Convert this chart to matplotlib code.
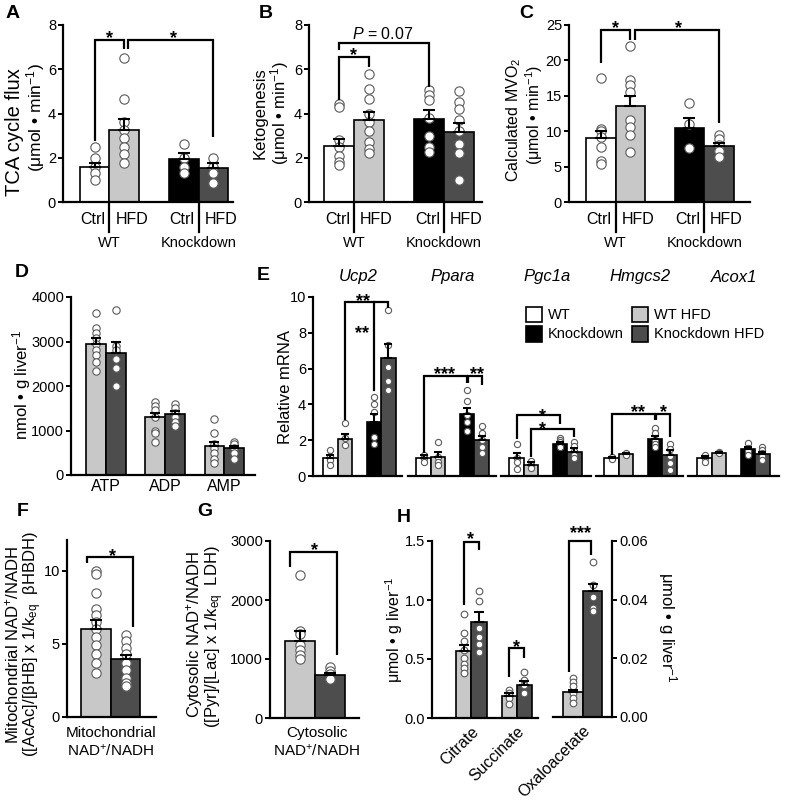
import matplotlib
matplotlib.use('Agg')
import matplotlib.pyplot as plt
import matplotlib.transforms as mtrans
from matplotlib.patches import Rectangle
import numpy as np

plt.rcParams['font.family'] = ['Liberation Sans', 'DejaVu Sans']
plt.rcParams['mathtext.fontset'] = 'custom'
plt.rcParams['mathtext.rm'] = 'Liberation Sans'
plt.rcParams['mathtext.it'] = 'Liberation Sans:italic'
plt.rcParams['mathtext.bf'] = 'Liberation Sans:bold'
plt.rcParams['mathtext.sf'] = 'Liberation Sans'

# ---------------- DATA ----------------
abc_groups = ['WT', 'Knockdown']
abc_ticks = ['Ctrl', 'HFD', 'Ctrl', 'HFD']
abc_pos = [0, 1, 3, 4]

tca_mean = [1.6, 3.25, 1.93, 1.55]
tca_sem = [0.17, 0.5, 0.27, 0.2]
tca_pts = [[2.5, 2.0, 1.6, 1.3, 1.0],
           [6.5, 4.65, 3.6, 3.25, 2.9, 2.5, 2.15, 1.75],
           [2.6, 2.0, 1.6, 1.3],
           [2.0, 1.6, 1.3, 0.85]]

keto_mean = [2.55, 3.7, 3.75, 3.15]
keto_sem = [0.3, 0.35, 0.4, 0.4]
keto_pts = [[4.45, 4.3, 2.8, 2.5, 2.1, 1.8, 1.65],
            [5.8, 5.1, 4.65, 4.0, 3.6, 3.2, 2.7, 2.4, 2.2],
            [5.05, 4.85, 4.6, 3.8, 3.0, 2.5, 2.25],
            [5.0, 4.5, 4.2, 3.7, 3.2, 2.6, 2.2, 1.0]]

mvo_mean = [9.0, 13.6, 10.5, 7.9]
mvo_sem = [1.0, 1.4, 1.3, 0.5]
mvo_pts = [[17.5, 10.3, 10.0, 9.2, 7.8, 5.8, 5.3],
           [22.0, 17.2, 16.5, 15.6, 11.6, 10.6, 9.5, 7.0],
           [14.0, 11.0, 7.6],
           [9.5, 8.9, 8.0, 7.2, 6.4]]

nuc_labels = ['ATP', 'ADP', 'AMP']
nuc_light_mean = [2950, 1300, 650]
nuc_light_sem = [120, 90, 100]
nuc_dark_mean = [2750, 1370, 600]
nuc_dark_sem = [230, 70, 60]
nuc_light_pts = [[3630, 3300, 3200, 3080, 2950, 2820, 2700, 2550, 2330],
                 [1650, 1550, 1450, 1300, 1000, 950, 750],
                 [1260, 950, 700, 600, 500, 350, 270]]
nuc_dark_pts = [[3700, 2900, 2800, 2600, 2400, 2000],
                [1600, 1500, 1400, 1300, 1200, 1100],
                [750, 700, 600, 500, 350]]

genes = ['Ucp2', 'Ppara', 'Pgc1a', 'Hmgcs2', 'Acox1']
series_e = ['WT', 'WT HFD', 'Knockdown', 'Knockdown HFD']
mrna_mean = [[1.0, 2.05, 3.0, 6.6],
             [1.0, 1.05, 3.45, 2.0],
             [1.0, 0.6, 1.8, 1.35],
             [1.0, 1.25, 2.05, 1.2],
             [1.0, 1.3, 1.5, 1.25]]
mrna_sem = [[0.2, 0.3, 0.45, 0.8],
            [0.15, 0.3, 0.35, 0.25],
            [0.3, 0.2, 0.12, 0.2],
            [0.05, 0.05, 0.2, 0.25],
            [0.1, 0.05, 0.1, 0.1]]
mrna_pts = [
    [[1.45, 1.1, 0.9, 0.6], [2.95, 2.1, 1.75], [4.4, 4.05, 3.6, 2.2, 1.8], [9.3, 7.3, 6.1, 5.3, 4.8]],
    [[1.2, 1.0, 0.8], [1.9, 1.05, 0.8, 0.6], [4.8, 4.2, 3.4, 3.0, 2.5], [2.8, 2.4, 2.0, 1.6, 1.3]],
    [[1.8, 1.0, 0.8, 0.4], [0.85, 0.6, 0.45], [2.1, 2.0, 1.9, 1.75, 1.6], [1.9, 1.7, 1.4, 1.2, 1.0]],
    [[1.05, 0.95], [1.3, 1.2], [2.7, 2.4, 2.0, 1.8, 1.6], [1.8, 1.5, 1.1, 0.7, 0.35]],
    [[1.2, 1.0, 0.8], [1.35, 1.3], [1.85, 1.55, 1.4, 1.2], [1.6, 1.45, 1.3, 1.1, 0.9]],
]

mito_mean = [6.0, 3.95]
mito_sem = [0.6, 0.3]
mito_pts = [[10.0, 9.8, 8.5, 7.4, 7.0, 6.5, 6.0, 5.5, 4.9, 4.3, 3.7, 3.0],
            [5.6, 5.2, 4.7, 4.3, 3.7, 3.2, 2.7, 2.3, 2.1]]

cyto_mean = [1300, 730]
cyto_sem = [180, 35]
cyto_pts = [[2430, 1480, 1430, 1240, 1150, 1070, 1000],
            [860, 800, 750, 660]]

met_labels = ['Citrate', 'Succinate', 'Oxaloacetate']
met_light_mean = [0.57, 0.19, 0.0085]
met_light_sem = [0.05, 0.02, 0.0008]
met_dark_mean = [0.81, 0.28, 0.043]
met_dark_sem = [0.09, 0.03, 0.0025]
met_light_pts = [[0.88, 0.72, 0.65, 0.58, 0.51, 0.46, 0.42, 0.38],
                 [0.24, 0.21, 0.17, 0.12],
                 [0.0133, 0.0121, 0.0104, 0.0083, 0.0066, 0.0048]]
met_dark_pts = [[1.08, 0.99, 0.76, 0.69, 0.63, 0.56],
                [0.39, 0.32, 0.28, 0.21],
                [0.053, 0.045, 0.041, 0.037, 0.036]]

WHITE, LIGHT, BLACK, DARK = 'white', '#c8c8c8', 'black', '#4d4d4d'
colors4 = [WHITE, LIGHT, BLACK, DARK]

# ---------------- FIGURE ----------------
W, H = 796, 800
fig = plt.figure(figsize=(W / 100, H / 100), dpi=100)


def add_ax(l, t, r, b):
    return fig.add_axes([l / W, 1 - b / H, (r - l) / W, (b - t) / H])


def ftext(x, y, s, **kw):
    fig.text(x / W, 1 - y / H, s, **kw)


def style(ax, xlim, ylim, yticks, left=True, right=False, ysize=10.5):
    ax.set_xlim(*xlim)
    ax.set_ylim(*ylim)
    ax.spines['top'].set_visible(False)
    ax.spines['right'].set_visible(right)
    ax.spines['left'].set_visible(left)
    for s in ['left', 'bottom', 'right']:
        ax.spines[s].set_linewidth(1.6)
    ax.set_yticks(yticks)
    ax.tick_params(axis='y', direction='out', length=3.5, width=1.4, labelsize=ysize, pad=1.5,
                   left=left, labelleft=left, right=right, labelright=right)
    ax.tick_params(axis='x', length=0, labelbottom=False)
    ax.patch.set_alpha(0)


def draw_bars(ax, xs, means, sems, colors, pts, width=1.0, ms=45, cap=4.5):
    ax.bar(xs, means, width=width, color=colors, edgecolor='black', linewidth=1.2, zorder=2)
    for x, p in zip(xs, pts):
        ax.scatter([x] * len(p), p, s=ms, facecolor='white', edgecolor='#5a5a5a',
                   linewidth=0.8, zorder=3, clip_on=False)
    ax.errorbar(xs, means, yerr=[np.zeros(len(sems)), sems], fmt='none', ecolor='black',
                elinewidth=1.5, capsize=cap, capthick=1.5, zorder=4)


def bracket(ax, x1, x2, y, y1, y2, lw=1.6):
    ax.plot([x1, x1, x2, x2], [y1, y, y, y2], color='black', lw=lw, clip_on=False,
            solid_joinstyle='miter', solid_capstyle='butt', zorder=5)


def star(ax, x, y, s, size=13, linespacing=1.2):
    tr = ax.transData + mtrans.ScaledTranslation(0, -0.58 * size / 72, fig.dpi_scale_trans)
    ax.text(x, y, s, transform=tr, ha='center', va='baseline', fontsize=size,
            fontweight='bold', clip_on=False, linespacing=linespacing)


def xlab(ax, x, dy_px, s, dx_px=0, **kw):
    tr = mtrans.blended_transform_factory(ax.transData, ax.transAxes) + \
        mtrans.ScaledTranslation(dx_px / 100, -dy_px / 100, fig.dpi_scale_trans)
    ax.text(x, 0, s, transform=tr, **kw)


def group_axis(ax, ax_h):
    seps = [(abc_pos[0] + abc_pos[1]) / 2, (abc_pos[2] + abc_pos[3]) / 2]
    tr = mtrans.blended_transform_factory(ax.transData, ax.transAxes)
    for sep, g in zip(seps, abc_groups):
        ax.plot([sep, sep], [0, -30 / ax_h], transform=tr, color='black', lw=1.6, clip_on=False)
        xlab(ax, sep, 41, g, ha='center', va='center', fontsize=10.5)
    for i, t in enumerate(abc_ticks):
        sep = seps[i // 2]
        if i % 2 == 0:
            xlab(ax, sep, 18, t, dx_px=-4, ha='right', va='center', fontsize=11.5)
        else:
            xlab(ax, sep, 18, t, dx_px=6, ha='left', va='center', fontsize=11.5)


# ---- Panel A ----
axA = add_ax(63, 25, 233, 202)
draw_bars(axA, abc_pos, tca_mean, tca_sem, colors4, tca_pts)
style(axA, (-1.06, 4.66), (0, 8), [0, 2, 4, 6, 8])
group_axis(axA, 177)
bracket(axA, 0, 0.98, 7.3, 2.75, 6.9)
bracket(axA, 1.12, 4, 7.3, 6.9, 2.95)
star(axA, 0.5, 7.65, '*')
star(axA, 2.67, 7.65, '*')
ftext(15, 132, 'TCA cycle flux', rotation=90, ha='center', va='center', fontsize=14.5)
ftext(36, 118, r'($\mathregular{\mu}$mol • min$^{-1}$)', rotation=90, ha='center', va='center', fontsize=12.5)

# ---- Panel B ----
axB = add_ax(309, 25, 482, 202)
draw_bars(axB, abc_pos, keto_mean, keto_sem, colors4, keto_pts)
style(axB, (-1.0, 4.77), (0, 8), [0, 2, 4, 6, 8])
group_axis(axB, 177)
bracket(axB, 0, 3, 7.2, 6.88, 5.2)
bracket(axB, 0, 1, 6.55, 4.6, 6.12)
star(axB, 0.5, 6.9, '*')
axB.text(1.47, 7.25, r'$\mathit{P}$ = 0.07', ha='center', va='bottom', fontsize=11.5)
ftext(260, 113, 'Ketogenesis', rotation=90, ha='center', va='center', fontsize=12)
ftext(280, 113, r'($\mathregular{\mu}$mol • min$^{-1}$)', rotation=90, ha='center', va='center', fontsize=12)

# ---- Panel C ----
axC = add_ax(569, 25, 750, 202)
draw_bars(axC, abc_pos, mvo_mean, mvo_sem, colors4, mvo_pts)
style(axC, (-1.08, 5.05), (0, 25), [0, 5, 10, 15, 20, 25])
group_axis(axC, 177)
bracket(axC, 0, 0.98, 24.3, 19.6, 22.9)
bracket(axC, 1.15, 4, 24.3, 22.9, 11.1)
star(axC, 0.5, 25.3, '*')
star(axC, 2.64, 25.3, '*')
ftext(514, 120, r'Calculated MVO$_2$', rotation=90, ha='center', va='center', fontsize=11.5)
ftext(534, 115, r'($\mathregular{\mu}$mol • min$^{-1}$)', rotation=90, ha='center', va='center', fontsize=11.5)

# ---- Panel D ----
axD = add_ax(71, 297, 255, 475)
gD = np.arange(len(nuc_labels)) * 3.0
draw_bars(axD, gD - 0.5, nuc_light_mean, nuc_light_sem, [LIGHT] * 3, nuc_light_pts, ms=28, cap=3.5)
draw_bars(axD, gD + 0.5, nuc_dark_mean, nuc_dark_sem, [DARK] * 3, nuc_dark_pts, ms=28, cap=3.5)
style(axD, (-1.78, 7.56), (0, 4000), [0, 1000, 2000, 3000, 4000])
axD.set_xticks(gD)
axD.set_xticklabels(nuc_labels)
axD.tick_params(axis='x', labelbottom=True, labelsize=11.5, pad=3)
ftext(22, 385, r'nmol • g liver$^{-1}$', rotation=90, ha='center', va='center', fontsize=12)

# ---- Panel E ----
e_pos = [0, 1, 3, 4]
e_boxes = [(313, 402, -1.2, 4.93), (408, 496, -1.07, 5.0), (501, 591, -1.07, 5.14),
           (596, 683, -1.07, 4.93), (688, 779, -1.14, 5.14)]
axE = []
for gi, (l, r, x0, x1) in enumerate(e_boxes):
    ax = add_ax(l, 297, r, 476)
    draw_bars(ax, e_pos, mrna_mean[gi], mrna_sem[gi], colors4, mrna_pts[gi], ms=20, cap=3)
    style(ax, (x0, x1), (0, 10), [0, 2, 4, 6, 8, 10], left=(gi == 0))
    ftext((l + r) / 2 + 1, 277, genes[gi], ha='center', va='center', fontsize=12, style='italic')
    axE.append(ax)
ftext(285, 387, 'Relative mRNA', rotation=90, ha='center', va='center', fontsize=12)
# Ucp2
ax = axE[0]
bracket(ax, 1, 4, 9.7, 3.12, 9.4)
ax.plot([3, 3], [9.7, 4.8], color='black', lw=1.6, clip_on=False, zorder=5)
star(ax, 2.26, 10.1, '**')
star(ax, 2.2, 8.3, '**')
# Ppara
ax = axE[1]
bracket(ax, 0, 3, 5.6, 1.3, 5.18)
bracket(ax, 3.1, 4, 5.6, 5.18, 5.08)
star(ax, 1.48, 5.98, '***')
star(ax, 3.67, 5.98, '**')
# Pgc1a (two stacked single stars, one per bracket)
ax = axE[2]
bracket(ax, 0, 3, 3.4, 2.09, 2.9)
bracket(ax, 1, 4, 2.65, 1.07, 2.19)
star(ax, 1.81, 2.93, '*\n*', linespacing=0.7)
# Hmgcs2
ax = axE[3]
bracket(ax, 0, 3, 3.46, 1.16, 3.12)
bracket(ax, 3.1, 4, 3.46, 3.12, 2.19)
star(ax, 1.85, 3.87, '**')
star(ax, 3.57, 3.87, '*')
# Legend
leg_items = [(526, 307, series_e[0], WHITE), (632, 307, series_e[1], LIGHT),
             (526, 326, series_e[2], BLACK), (632, 326, series_e[3], DARK)]
for (x, y, lab, c) in leg_items:
    fig.patches.append(Rectangle((x / W, 1 - (y + 15.5) / H), 15.5 / W, 15.5 / H, transform=fig.transFigure,
                                 facecolor=c, edgecolor='black', linewidth=1.2))
    ftext(x + 22, y + 8, lab, ha='left', va='center', fontsize=10.5)

# ---- Panel F ----
axF = add_ax(67, 540, 156, 717)
draw_bars(axF, [0, 1], mito_mean, mito_sem, [LIGHT, DARK], mito_pts)
style(axF, (-0.98, 2.03), (0, 12.1), [0, 5, 10])
bracket(axF, -0.3, 1.26, 10.94, 10.5, 6.18)
star(axF, 0.57, 11.4, '*')
ftext(111, 733, 'Mitochondrial', ha='center', va='center', fontsize=11)
ftext(111, 751, r'NAD$^{+}$/NADH', ha='center', va='center', fontsize=11)
ftext(12.5, 645, r'Mitochondrial NAD$^{+}$/NADH', rotation=90, ha='center', va='center', fontsize=12)
ftext(32.5, 644, r'([AcAc]/[$\mathregular{\beta}$HB] x 1/$\mathregular{k_{eq}}$  $\mathregular{\beta}$HBDH)',
      rotation=90, ha='center', va='center', fontsize=12)

# ---- Panel G ----
axG = add_ax(270, 541, 359, 718)
draw_bars(axG, [0, 1], cyto_mean, cyto_sem, [LIGHT, DARK], cyto_pts)
style(axG, (-1.0, 1.97), (0, 3000), [0, 1000, 2000, 3000])
bracket(axG, -0.33, 1.22, 2819, 2565, 1068)
star(axG, 0.5, 2932, '*')
ftext(317, 733, 'Cytosolic', ha='center', va='center', fontsize=11)
ftext(317, 751, r'NAD$^{+}$/NADH', ha='center', va='center', fontsize=11)
ftext(195, 635, r'Cytosolic NAD$^{+}$/NADH', rotation=90, ha='center', va='center', fontsize=12)
ftext(215, 637, r'([Pyr]/[Lac] x 1/$\mathregular{k_{eq}}$  LDH)', rotation=90, ha='center', va='center', fontsize=12)

# ---- Panel H ----
axH = add_ax(432, 541, 538, 718)
gH = np.array([0.0, 3.0])
draw_bars(axH, gH, met_light_mean[:2], met_light_sem[:2], [LIGHT] * 2, met_light_pts[:2], ms=23, cap=3.5)
draw_bars(axH, gH + 1, met_dark_mean[:2], met_dark_sem[:2], [DARK] * 2, met_dark_pts[:2], ms=23, cap=3.5)
style(axH, (-2.13, 4.93), (0, 1.5), [0, 0.5, 1.0, 1.5])
axH.yaxis.set_major_formatter(matplotlib.ticker.FormatStrFormatter('%.1f'))
bracket(axH, 0, 1, 1.494, 0.958, 1.42)
star(axH, 0.45, 1.56, '*')
bracket(axH, 3, 4, 0.59, 0.35, 0.506)
star(axH, 3.51, 0.647, '*')

axH2 = add_ax(553, 541, 612, 717)
draw_bars(axH2, [0], met_light_mean[2:], met_light_sem[2:], [LIGHT], met_light_pts[2:], ms=23, cap=3.5)
draw_bars(axH2, [1], met_dark_mean[2:], met_dark_sem[2:], [DARK], met_dark_pts[2:], ms=23, cap=3.5)
style(axH2, (-1.03, 2.0), (0, 0.06), [0, 0.02, 0.04, 0.06], left=False, right=True)
axH2.yaxis.set_major_formatter(matplotlib.ticker.FormatStrFormatter('%.2f'))
bracket(axH2, -0.2, 0.92, 0.0601, 0.01545, 0.0552)
star(axH2, 0.36, 0.0644, '***')

for ax, x, lab in [(axH, 0.5, met_labels[0]), (axH, 3.5, met_labels[1]), (axH2, 0.5, met_labels[2])]:
    xlab(ax, x, 11, lab, dx_px=5, ha='right', va='center', rotation=45,
         rotation_mode='anchor', fontsize=11.5)

ftext(394, 630, r'$\mathregular{\mu}$mol • g liver$^{-1}$', rotation=90, ha='center', va='center', fontsize=11.5)
ftext(667, 627, r'$\mathregular{\mu}$mol • g liver$^{-1}$', rotation=270, ha='center', va='center', fontsize=12)

# ---- Panel letters ----
for (x, y, L) in [(13, 13, 'A'), (266, 13, 'B'), (526, 13, 'C'), (22, 272, 'D'), (263, 276, 'E'),
                  (23, 511, 'F'), (205, 511, 'G'), (404, 517, 'H')]:
    ftext(x, y, L, ha='center', va='center', fontsize=14, fontweight='bold')

fig.savefig('out.png', dpi=100)
